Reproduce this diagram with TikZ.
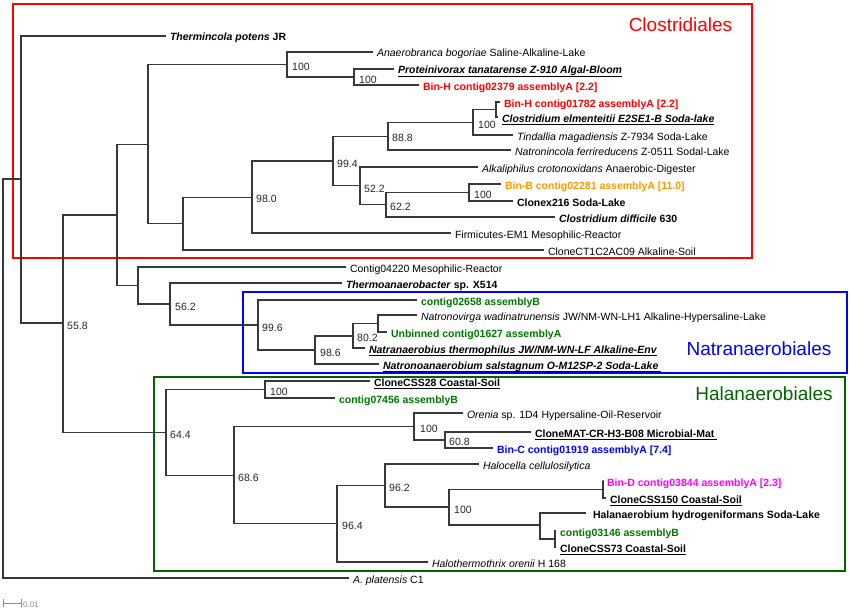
\documentclass[tikz,border=0pt]{standalone}
\usepackage{fontspec}
\setmainfont{Liberation Sans}
\definecolor{cgreen}{RGB}{0,120,0}
\definecolor{cboxg}{RGB}{0,100,0}
\definecolor{corange}{RGB}{255,153,0}
\definecolor{cred}{RGB}{255,0,0}
\definecolor{cblue}{RGB}{0,0,255}
\definecolor{cmag}{RGB}{255,0,255}
\newcommand{\lab}{\fontsize{10.5}{12}\selectfont}
\newcommand{\myul}[1]{\setbox0=\hbox{#1}\rlap{\rule[-3pt]{\wd0}{0.9pt}}\box0}
\newcommand{\bi}[1]{\textbf{\textit{#1}}}
\begin{document}
\begin{tikzpicture}[x=1pt,y=-1pt,
  br/.style={draw=black!78, line width=1.2pt},
  leaf/.style={anchor=west, inner xsep=4.5pt, inner ysep=0pt, outer sep=0pt, text height=10pt, text depth=0pt, font=\lab},
  bs/.style={anchor=west, inner sep=0pt, text height=10pt, text depth=0pt, font=\lab, text=black!85},
  clade/.style={font=\fontsize{19}{22}\selectfont, inner sep=0pt}]
\useasboundingbox (0,0) rectangle (851,610);

% clade boxes
\draw[cred, line width=1.6pt] (13,4) rectangle (752,258);
\draw[cblue, line width=1.6pt] (243,292) rectangle (847,373);
\draw[cboxg, line width=1.6pt] (154,377) rectangle (845,571);
\node[clade, text=cred] (tclo) at (680.5,25) {Clostridiales};
\node[clade, text=cblue] (tnat) at (759,349) {Natranaerobiales};
\node[clade, text=cboxg] (thal) at (764,394) {Halanaerobiales};

% internal nodes
\coordinate (root) at (3,378.5);
\coordinate (n21) at (21,179);
\coordinate (n63) at (63,323);
\coordinate (n117) at (117,215);
\coordinate (n148) at (148,144.5);
\coordinate (n287) at (287,64.5);
\coordinate (n354) at (354,77);
\coordinate (n183) at (183,223.5);
\coordinate (n252) at (252,197.5);
\coordinate (n333) at (333,161);
\coordinate (n388) at (388,136.5);
\coordinate (n473) at (473,122.5);
\coordinate (n496) at (496,109.5);
\coordinate (n360) at (360,185.5);
\coordinate (n386) at (386,204.5);
\coordinate (n469) at (469,192.5);
\coordinate (n138) at (138,285.5);
\coordinate (n170) at (170,304);
\coordinate (n258) at (258,325);
\coordinate (n315) at (315,350);
\coordinate (n353) at (353,336);
\coordinate (n378) at (378,323.5);
\coordinate (n166) at (166,432.5);
\coordinate (n265) at (265,389.5);
\coordinate (n234) at (234,475.5);
\coordinate (n414) at (414,426.5);
\coordinate (n445) at (445,440);
\coordinate (n337) at (337,523.5);
\coordinate (n385) at (385,485.5);
\coordinate (n449) at (449,507);
\coordinate (n603) at (603,489.5);
\coordinate (n540) at (540,525);
\coordinate (n555) at (555,539);

% leaves
\node[leaf] (the) at (165.5,36) {\bi{Thermincola potens} \textbf{JR}};
\node[leaf] (ana) at (372.5,52) {\textit{Anaerobranca bogoriae} Saline-Alkaline-Lake};
\node[leaf] (pro) at (393.5,69) {\myul{\bi{Proteinivorax tanatarense Z-910 Algal-Bloom}}};
\node[leaf, text=cred] (bh1) at (418.5,85) {\textbf{Bin-H contig02379 assemblyA [2.2]}};
\node[leaf, text=cred] (bh2) at (499.5,102) {\textbf{Bin-H contig01782 assemblyA [2.2]}};
\node[leaf] (cel) at (497.5,117) {\myul{\bi{Clostridium elmenteitii E2SE1-B Soda-lake}}};
\node[leaf] (tin) at (512.5,135) {\textit{Tindallia magadiensis} Z-7934 Soda-Lake};
\node[leaf] (nfe) at (510.5,150) {\textit{Natronincola ferrireducens} Z-0511 Sodal-Lake};
\node[leaf] (alk) at (477.5,167) {\textit{Alkaliphilus crotonoxidans} Anaerobic-Digester};
\node[leaf, text=corange] (bb) at (500.5,184) {\textbf{Bin-B contig02281 assemblyA [11.0]}};
\node[leaf] (c216) at (512.5,201) {\textbf{Clonex216 Soda-Lake}};
\node[leaf] (cdi) at (554.5,217) {\bi{Clostridium difficile} \textbf{630}};
\node[leaf] (fir) at (450.5,233) {Firmicutes-EM1 Mesophilic-Reactor};
\node[leaf] (cct) at (543.5,250) {CloneCT1C2AC09 Alkaline-Soil};
\node[leaf] (c4220) at (345.5,267) {Contig04220 Mesophilic-Reactor};
\node[leaf] (tha) at (341.5,283) {\bi{Thermoanaerobacter} \textbf{sp. X514}};
\node[leaf, text=cgreen] (c2658) at (416.5,300) {\textbf{contig02658 assemblyB}};
\node[leaf] (nwa) at (416.5,315) {\textit{Natronovirga wadinatrunensis} JW/NM-WN-LH1 Alkaline-Hypersaline-Lake};
\node[leaf, text=cgreen] (unb) at (386.5,332) {\textbf{Unbinned contig01627 assemblyA}};
\node[leaf] (nth) at (364.5,348) {\myul{\bi{Natranaerobius thermophilus JW/NM-WN-LF Alkaline-Env}}};
\node[leaf] (nsa) at (378.5,364) {\myul{\bi{Natronoanaerobium salstagnum O-M12SP-2 Soda-Lake}\ }};
\node[leaf] (css28) at (369.5,381) {\myul{\textbf{CloneCSS28 Coastal-Soil}}};
\node[leaf, text=cgreen] (c7456) at (334.5,398) {\textbf{contig07456 assemblyB}};
\node[leaf] (ore) at (462.5,413) {\textit{Orenia} sp. 1D4 Hypersaline-Oil-Reservoir};
\node[leaf] (cmat) at (530.5,432) {\myul{\textbf{CloneMAT-CR-H3-B08 Microbial-Mat}\ }};
\node[leaf, text=cblue] (bc) at (492.5,448) {\textbf{Bin-C contig01919 assemblyA [7.4]}};
\node[leaf] (hce) at (478.5,464) {\textit{Halocella cellulosilytica}};
\node[leaf, text=cmag] (bd) at (602.5,481) {\textbf{Bin-D contig03844 assemblyA [2.3]}};
\node[leaf] (css150) at (605.5,498) {\myul{\textbf{CloneCSS150 Coastal-Soil}}};
\node[leaf, inner xsep=7pt] (hhy) at (586,513) {\textbf{Halanaerobium hydrogeniformans Soda-Lake}};
\node[leaf, text=cgreen] (c3146) at (555.5,531) {\textbf{contig03146 assemblyB}};
\node[leaf] (css73) at (555.5,547) {\myul{\textbf{CloneCSS73 Coastal-Soil}}};
\node[leaf] (hor) at (427.5,562) {\textit{Halothermothrix orenii} H 168};
\node[leaf] (apl) at (348.5,578) {\textit{A. platensis} C1};

% branches
\draw[br] (root) |- (n21);
\draw[br] (root) |- (apl.west);
\draw[br] (n21) |- (the.west);
\draw[br] (n21) |- (n63);
\draw[br] (n63) |- (n117);
\draw[br] (n63) |- (n166);
\draw[br] (n117) |- (n148);
\draw[br] (n117) |- (n138);
\draw[br] (n148) |- (n287);
\draw[br] (n148) |- (n183);
\draw[br] (n287) |- (ana.west);
\draw[br] (n287) |- (n354);
\draw[br] (n354) |- (pro.west);
\draw[br] (n354) |- (bh1.west);
\draw[br] (n183) |- (n252);
\draw[br] (n183) |- (cct.west);
\draw[br] (n252) |- (n333);
\draw[br] (n252) |- (fir.west);
\draw[br] (n333) |- (n388);
\draw[br] (n333) |- (n360);
\draw[br] (n388) |- (n473);
\draw[br] (n388) |- (nfe.west);
\draw[br] (n473) |- (n496);
\draw[br] (n473) |- (tin.west);
\draw[br] (n496) |- (bh2.west);
\draw[br] (n496) |- (cel.west);
\draw[br] (n360) |- (alk.west);
\draw[br] (n360) |- (n386);
\draw[br] (n386) |- (n469);
\draw[br] (n386) |- (cdi.west);
\draw[br] (n469) |- (bb.west);
\draw[br] (n469) |- (c216.west);
\draw[br] (n138) |- (c4220.west);
\draw[br] (n138) |- (n170);
\draw[br] (n170) |- (tha.west);
\draw[br] (n170) |- (n258);
\draw[br] (n258) |- (c2658.west);
\draw[br] (n258) |- (n315);
\draw[br] (n315) |- (n353);
\draw[br] (n315) |- (nsa.west);
\draw[br] (n353) |- (n378);
\draw[br] (n353) |- (nth.west);
\draw[br] (n378) |- (nwa.west);
\draw[br] (n378) |- (unb.west);
\draw[br] (n166) |- (n265);
\draw[br] (n166) |- (n234);
\draw[br] (n265) |- (css28.west);
\draw[br] (n265) |- (c7456.west);
\draw[br] (n234) |- (n414);
\draw[br] (n234) |- (n337);
\draw[br] (n414) |- (ore.west);
\draw[br] (n414) |- (n445);
\draw[br] (n445) |- (cmat.west);
\draw[br] (n445) |- (bc.west);
\draw[br] (n337) |- (n385);
\draw[br] (n337) |- (hor.west);
\draw[br] (n385) |- (hce.west);
\draw[br] (n385) |- (n449);
\draw[br] (n449) |- (n603);
\draw[br] (n449) |- (n540);
\draw[br] (n603) |- (bd.west);
\draw[br] (n603) |- (css150.west);
\draw[br] (n540) |- (hhy.west);
\draw[br] (n540) |- (n555);
\draw[br] (n555) |- (c3146.west);
\draw[br] (n555) |- (css73.west);

% bootstrap values
\node[bs] (b63) at (67,324) {55.8};
\node[bs] (b287) at (292,65.5) {100};
\node[bs] (b354) at (359,78) {100};
\node[bs] (b252) at (256,197.5) {98.0};
\node[bs] (b333) at (337,162) {99.4};
\node[bs] (b388) at (392,136.5) {88.8};
\node[bs] (b473) at (478,123) {100};
\node[bs] (b360) at (364,187) {52.2};
\node[bs] (b386) at (390,205) {62.2};
\node[bs] (b469) at (474,193) {100};
\node[bs] (b170) at (175,305) {56.2};
\node[bs] (b258) at (262,326) {99.6};
\node[bs] (b315) at (320,351) {98.6};
\node[bs] (b353) at (357,336.5) {80.2};
\node[bs] (b166) at (170,433) {64.4};
\node[bs] (b265) at (270,390.5) {100};
\node[bs] (b234) at (238,476) {68.6};
\node[bs] (b414) at (420,427.5) {100};
\node[bs] (b445) at (449,440.5) {60.8};
\node[bs] (b337) at (342,524) {96.4};
\node[bs] (b385) at (389,486.5) {96.2};
\node[bs] (b449) at (454,508) {100};

% scale bar
\coordinate (sb1) at (3,603);
\coordinate (sb2) at (22,603);
\draw[black!45, line width=0.8pt, |-|] (sb1) -- (sb2);
\node[anchor=west, inner sep=0pt, text=black!45, font=\fontsize{8}{9}\selectfont] (sbl) at (23,605) {0.01};
\end{tikzpicture}
\end{document}
